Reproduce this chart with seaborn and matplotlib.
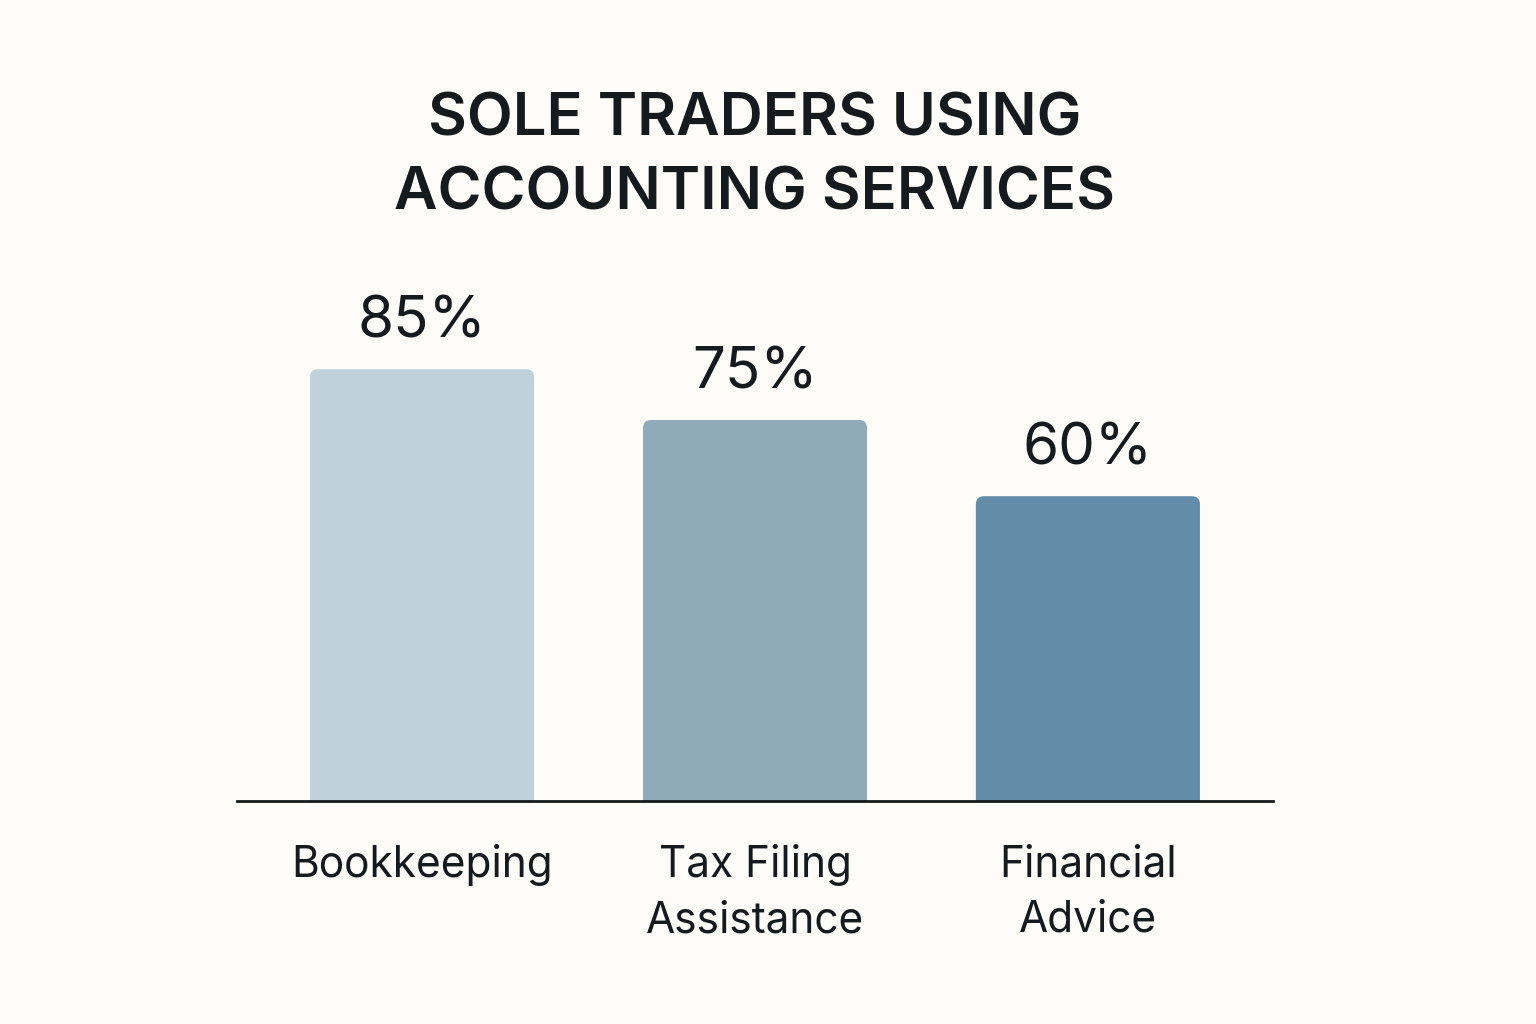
import matplotlib
matplotlib.use("Agg")
import matplotlib.pyplot as plt
from matplotlib.patches import FancyBboxPatch
import seaborn as sns
import pandas as pd

# chart data
services = ["Bookkeeping", "Tax Filing\nAssistance", "Financial\nAdvice"]
share_pct = [85, 75, 60]
bar_colors = ["#BFD1DA", "#8FABBA", "#628CA8"]

bg = "#FDFCF8"
ink = "#151A1E"

sns.set_style("white")
plt.rcParams["font.family"] = ["Inter", "DejaVu Sans"]

df = pd.DataFrame({"service": services, "share": share_pct})

fig = plt.figure(figsize=(15.36, 10.24), dpi=100, facecolor=bg)
ax = fig.add_axes([237 / 1536, 223 / 1024, 1036 / 1536, 508 / 1024])
ax.set_facecolor(bg)

sns.barplot(data=df, x="service", y="share", hue="service", palette=bar_colors,
            legend=False, width=0.673, saturation=1, ax=ax)

ax.set_xlim(-0.556, 2.556)
ax.set_ylim(0, 100)

# swap the plain rectangles for ones with softly rounded top corners
px_x = 1036 / (2.556 + 0.556)
px_y = 508 / 100
r = 8 / px_x
for p in list(ax.patches):
    x, w, h = p.get_x(), p.get_width(), p.get_height()
    fc = p.get_facecolor()
    p.set_visible(False)
    low = -12 / px_y
    rp = FancyBboxPatch((x, low), w, h - low,
                        boxstyle=f"round,pad=0,rounding_size={r}",
                        mutation_aspect=px_x / px_y,
                        facecolor=fc, edgecolor="none", zorder=2)
    ax.add_patch(rp)

for cont in ax.containers:
    ax.bar_label(cont, labels=[f"{v:.0f}%" for v in cont.datavalues],
                 padding=14, fontsize=42, color=ink)

for s in ["top", "right", "left"]:
    ax.spines[s].set_visible(False)
ax.spines["bottom"].set_color(ink)
ax.spines["bottom"].set_linewidth(2)
ax.spines["bottom"].set_zorder(3)
ax.set_yticks([])
ax.set_xlabel("")
ax.set_ylabel("")
ax.tick_params(axis="x", length=0, pad=31, labelsize=30.5, labelcolor=ink)
for t in ax.get_xticklabels():
    t.set_linespacing(1.45)
    t.set_verticalalignment("top")

fig.text(755 / 1536, 1 - 157 / 1024, "SOLE TRADERS USING\nACCOUNTING SERVICES",
         ha="center", va="center", fontsize=43, fontweight="semibold", color=ink,
         linespacing=1.42)

fig.savefig("out.png", dpi=100, facecolor=bg)
